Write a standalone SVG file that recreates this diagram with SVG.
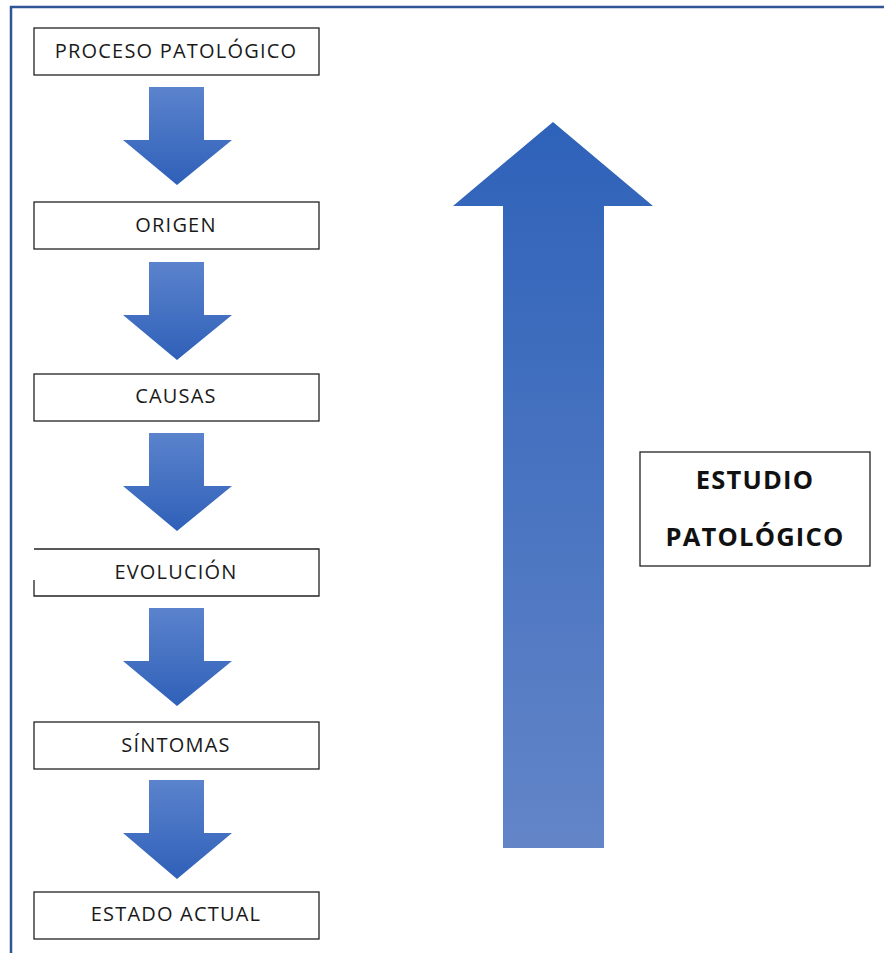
<svg xmlns="http://www.w3.org/2000/svg" width="884" height="953" viewBox="0 0 884 953">
<defs>
<linearGradient id="gDown" x1="0" y1="0" x2="0" y2="1">
<stop offset="0" stop-color="#5b83cd"/>
<stop offset="1" stop-color="#2f60b8"/>
</linearGradient>
<linearGradient id="gUp" x1="0" y1="0" x2="0" y2="1">
<stop offset="0" stop-color="#2e62b9"/>
<stop offset="1" stop-color="#6385c8"/>
</linearGradient>
<style>
.box{fill:#fff;stroke:#222;stroke-width:1.3}
.lbl{font-family:"Open Sans",Lato,"Liberation Sans",sans-serif;font-size:20px;letter-spacing:1.2px;fill:#1a1a1a;text-anchor:middle}
.big{font-family:"Open Sans",Lato,"Liberation Sans",sans-serif;font-size:25.5px;letter-spacing:1.2px;font-weight:bold;fill:#111;text-anchor:middle}
.arr{fill:url(#gDown)}
</style>
</defs>
<rect width="884" height="953" fill="#fff"/>
<path d="M11,953 V7 H884" fill="none" stroke="#2f5597" stroke-width="2.5"/>
<g id="connectors">
<path class="arr" d="M149,87 H204 V140 H232 L177,185 L123,140 H149 Z"/>
<path class="arr" d="M149,262 H204 V315 H232 L177,360 L123,315 H149 Z"/>
<path class="arr" d="M149,433 H204 V486 H232 L177,531 L123,486 H149 Z"/>
<path class="arr" d="M149,608 H204 V661 H232 L177,706 L123,661 H149 Z"/>
<path class="arr" d="M149,780 H204 V833 H232 L177,879 L123,833 H149 Z"/>
<path d="M553,122 L653,206 H604 V848 H503 V206 H453 Z" fill="url(#gUp)"/>
</g>
<g id="n1"><rect class="box" x="34" y="28" width="285" height="47"/><text class="lbl" x="176" y="58">PROCESO PATOLÓGICO</text></g>
<g id="n2"><rect class="box" x="34" y="202" width="285" height="47"/><text class="lbl" x="176" y="232">ORIGEN</text></g>
<g id="n3"><rect class="box" x="34" y="374" width="285" height="47"/><text class="lbl" x="176" y="403">CAUSAS</text></g>
<g id="n4"><rect x="34" y="549" width="285" height="47" fill="#fff"/><path d="M34,549 H319 V596 H34 V580" fill="none" stroke="#222" stroke-width="1.3"/><text class="lbl" x="176" y="579">EVOLUCIÓN</text></g>
<g id="n5"><rect class="box" x="34" y="722" width="285" height="47"/><text class="lbl" x="176" y="752">SÍNTOMAS</text></g>
<g id="n6"><rect class="box" x="34" y="892" width="285" height="47"/><text class="lbl" x="176" y="921">ESTADO ACTUAL</text></g>
<g id="n7"><rect class="box" x="640" y="452" width="230" height="114"/><text class="big" x="755" y="489">ESTUDIO</text><text class="big" x="755" y="546">PATOLÓGICO</text></g>
</svg>
